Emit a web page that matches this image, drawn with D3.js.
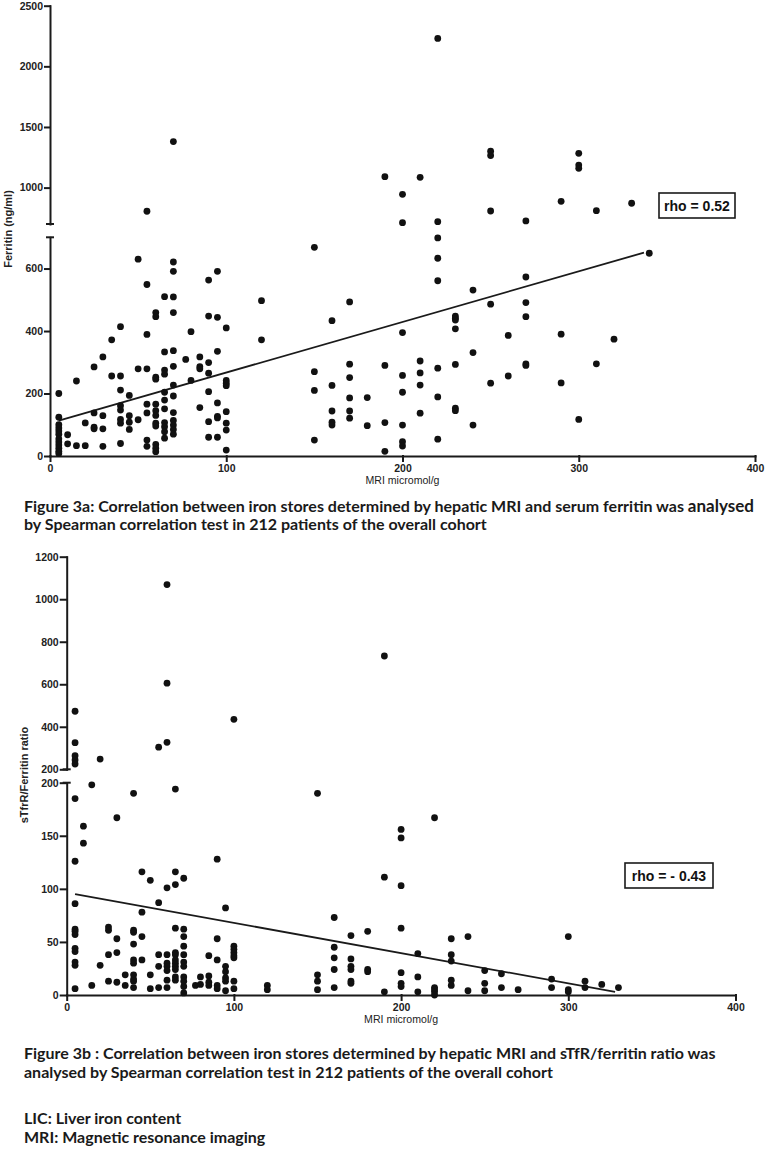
<!DOCTYPE html>
<html><head><meta charset="utf-8">
<script src="https://cdn.jsdelivr.net/npm/d3@7"></script>
<style>
html,body{margin:0;padding:0;background:#fff;}
svg{display:block;}
.tick text{font-family:"Liberation Sans",Arial,sans-serif;font-weight:bold;font-size:10.5px;fill:#222;}
.cap{font-family:Lato,"Open Sans",sans-serif;font-weight:700;font-size:16px;fill:#1a1a1a;}
</style></head><body><svg id="c" width="766" height="1150"></svg>
<script>
const xTicks=[0,100,200,300,400];
const ferritinTicksLow=[0,200,400,600];
const ferritinTicksHigh=[1000,1500,2000,2500];
const ratioTicksLow=[0,50,100,150,200];
const ratioTicksHigh=[200,400,600,800,1000,1200];
const ferritinBreak=700, ferritinMax=2500;
const ratioBreak=200, ratioMax=1200;
const xMax=400;

// Figure 3a: [MRI micromol/g, ferritin ng/ml]
const pointsA=[
[5,200],[5,124],[5,100],[5,90],[5,80],[5,70],[5,55],[5,45],[5,35],[5,25],[5,15],[5,8],
[10,68],[10,39],[15,240],[15,33],[20,106],[20,33],
[25,285],[25,138],[25,92],[25,87],
[30,317],[30,129],[30,87],[30,31],
[35,372],[35,256],
[40,414],[40,256],[40,211],[40,161],[40,147],[40,117],[40,105],[40,40],
[45,194],[45,129],[45,108],[45,85],
[50,630],[50,279],[50,116],
[55,805],[55,549],[55,389],[55,279],[55,166],[55,138],[55,51],[55,31],
[60,459],[60,446],[60,252],[60,246],[60,166],[60,145],[60,130],[60,105],[60,96],[60,37],[60,25],[60,14],
[65,510],[65,333],[65,275],[65,262],[65,204],[65,179],[65,151],[65,107],[65,94],[65,78],[65,57],
[70,1380],[70,621],[70,591],[70,509],[70,459],[70,337],[70,287],[70,227],[70,192],[70,139],[70,114],[70,99],[70,85],[70,70],
[77,309],[80,398],[80,242],
[85,317],[85,286],[85,279],[85,155],
[90,563],[90,448],[90,299],[90,265],[90,206],[90,110],[90,60],
[95,591],[95,444],[95,335],[95,170],[95,127],[95,122],[95,60],
[100,410],[100,242],[100,233],[100,225],[100,142],[100,105],[100,83],[100,19],
[120,497],[120,372],
[150,668],[150,270],[150,210],[150,51],
[160,433],[160,226],[160,144],[160,108],[160,99],
[170,493],[170,294],[170,251],[170,186],[170,144],[170,121],
[180,187],[180,97],
[190,1090],[190,290],[190,107],[190,15],
[200,945],[200,711],[200,395],[200,258],[200,204],[200,99],[200,46],[200,32],
[210,1085],[210,304],[210,266],[210,227],[210,137],
[220,2230],[220,719],[220,698],[220,633],[220,561],[220,281],[220,189],[220,54],
[230,448],[230,441],[230,435],[230,407],[230,293],[230,153],[230,145],
[240,531],[240,331],[240,99],
[250,1300],[250,1265],[250,807],[250,486],[250,233],
[260,386],[260,256],
[270,725],[270,573],[270,491],[270,446],[270,295],[270,290],
[290,887],[290,390],[290,234],
[300,1283],[300,1186],[300,1159],[300,117],
[310,810],[310,295],[320,374],[330,871],[340,649]
];
// Figure 3b: [MRI micromol/g, sTfR/ferritin ratio]
const pointsB=[
[5,473],[5,325],[5,264],[5,244],[5,225],[5,185],[5,126],[5,86],[5,62],[5,60],[5,57],[5,44],[5,41],[5,31],[5,28],[5,6],
[10,159],[10,143],[15,198],[15,9],[20,248],[20,28],
[25,64],[25,61],[25,38],[25,13],
[30,167],[30,53],[30,40],[30,12],
[35,19],[35,9],
[40,190],[40,61],[40,59],[40,48],[40,33],[40,30],[40,19],[40,15],[40,13],[40,7],
[45,116],[45,78],[45,55],[45,33],
[50,108],[50,19],[50,6],
[55,304],[55,87],[55,38],[55,27],[55,7],
[60,1069],[60,605],[60,327],[60,101],[60,38],[60,30],[60,27],[60,23],[60,14],[60,7],
[65,194],[65,116],[65,104],[65,63],[65,40],[65,38],[65,33],[65,30],[65,27],[65,24],[65,17],[65,14],
[70,110],[70,62],[70,55],[70,46],[70,38],[70,31],[70,27],[70,17],[70,13],[70,8],[70,2],
[77,9],[80,17],[80,10],
[85,37],[85,18],[85,12],[85,9],
[90,128],[90,53],[90,33],[90,9],[90,6],
[95,82],[95,27],[95,22],[95,16],[95,13],[95,4],
[100,435],[100,46],[100,43],[100,40],[100,37],[100,35],[100,13],[100,6],
[120,9],[120,5],
[150,190],[150,19],[150,13],[150,5],
[160,73],[160,45],[160,35],[160,24],[160,7],
[170,56],[170,34],[170,27],[170,24],[170,13],[170,11],
[180,60],[180,24],[180,22],
[190,733],[190,111],[190,3],
[200,156],[200,148],[200,103],[200,63],[200,21],[200,11],[200,8],
[210,39],[210,17],[210,3],
[220,167],[220,7],[220,5],[220,3],[220,0],
[230,53],[230,38],[230,32],[230,14],[230,9],
[240,55],[240,4],
[250,23],[250,11],[250,4],
[260,20],[260,7],[270,5],
[290,15],[290,7],
[300,55],[300,5],[300,3],
[310,13],[310,7],[320,10],[330,7]
];
const fitA=[[5,113],[337,651]];
const fitB=[[5,95],[328,3]];
const rhoA="rho = 0.52", rhoB="rho = - 0.43";
const yLabelA="Ferritin (ng/ml)", yLabelB="sTfrR/Ferritin ratio", xLabel="MRI micromol/g";
const captionA=["Figure 3a: Correlation between iron stores determined by hepatic MRI and serum ferritin was ","analysed","by Spearman correlation test in 212 patients of the overall cohort"];
const captionB=["Figure 3b : Correlation between iron stores determined by hepatic MRI and sTfR/ferritin ratio was","analysed by Spearman correlation test in 212 patients of the overall cohort"];
const notes=["LIC: Liver iron content","MRI: Magnetic resonance imaging"];

const svg=d3.select("#c");
const ink="#1a1a1a";

function panel(o){
  const g=svg.append("g");
  const x=d3.scaleLinear([0,xMax],o.xr);
  const yl=d3.scaleLinear([0,o.brk],o.ylr);
  const yu=d3.scaleLinear([o.brk,o.max],o.yur);
  const y=v=>v>o.brk?yu(v):yl(v);
  const x0=o.xr[0];
  g.append("g").attr("transform",`translate(${x0},0)`)
    .call(d3.axisLeft(yl).tickValues(o.tl).tickSize(o.ts).tickSizeOuter(0).tickPadding(o.tp).tickFormat(d3.format("d")));
  g.append("g").attr("transform",`translate(${x0},0)`)
    .call(d3.axisLeft(yu).tickValues(o.tu).tickSize(o.ts).tickSizeOuter(0).tickPadding(o.tp).tickFormat(d3.format("d")));
  g.append("g").attr("transform",`translate(0,${o.ylr[0]})`)
    .call(d3.axisBottom(x).tickValues(xTicks).tickSize(5).tickSizeOuter(0).tickPadding(4));
  g.selectAll(".domain,.tick line").attr("stroke",ink).attr("stroke-width",2).attr("stroke-linecap","square");
  g.selectAll(".tick text").attr("fill","#222");
  [yl(o.brk),yu(o.brk)].forEach(cy=>{
    g.append("line").attr("x1",x0-4).attr("x2",x0+4).attr("y1",cy).attr("y2",cy)
      .attr("stroke",ink).attr("stroke-width",2);
  });
  g.append("path").attr("d",d3.line().x(d=>x(d[0])).y(d=>y(d[1]))(o.fit))
    .attr("stroke",ink).attr("stroke-width",1.8).attr("fill","none");
  g.append("g").selectAll("circle").data(o.pts).join("circle")
    .attr("cx",d=>x(d[0])).attr("cy",d=>y(d[1])).attr("r",3.4).attr("fill","#111");
  g.append("text").attr("transform",`translate(${o.ylab[0]},${o.ylab[1]}) rotate(-90)`)
    .attr("text-anchor","middle").attr("dy","0.35em")
    .style("font-family","'Liberation Sans',Arial,sans-serif").style("font-weight","bold").style("font-size","11px")
    .attr("fill","#222").text(o.ylabel);
  g.append("text").attr("x",(o.xr[0]+o.xr[1])/2).attr("y",o.ylr[0]+28)
    .attr("text-anchor","middle").attr("textLength",74).attr("lengthAdjust","spacingAndGlyphs")
    .style("font-family","'Liberation Sans',Arial,sans-serif").style("font-size","11px")
    .attr("fill","#222").text(xLabel);
  const b=o.box;
  g.append("rect").attr("x",b[0]).attr("y",b[1]).attr("width",b[2]).attr("height",b[3])
    .attr("fill","#fff").attr("stroke",ink).attr("stroke-width",1.6);
  g.append("text").attr("x",b[0]+b[2]/2).attr("y",b[1]+b[3]/2).attr("dy","0.36em")
    .attr("text-anchor","middle")
    .style("font-family","'Liberation Sans',Arial,sans-serif").style("font-weight","bold").style("font-size","14px")
    .attr("fill","#111").text(o.rho);
}

panel({xr:[50,755],ylr:[456,237.3],yur:[224,5.7],brk:ferritinBreak,max:ferritinMax,
  tl:ferritinTicksLow,tu:ferritinTicksHigh,ts:5,tp:2,pts:pointsA,fit:fitA,
  ylabel:yLabelA,ylab:[8,229],rho:rhoA,box:[659,193,76,25]});
panel({xr:[66.7,735.5],ylr:[995,782.7],yur:[769.3,556.7],brk:ratioBreak,max:ratioMax,
  tl:ratioTicksLow,tu:ratioTicksHigh,ts:6,tp:2,pts:pointsB,fit:fitB,
  ylabel:yLabelB,ylab:[24,775],rho:rhoB,box:[625,863,88,25]});

const ca=svg.append("text").attr("class","cap").attr("x",24).attr("y",511.5);
ca.append("tspan").text(captionA[0]);
ca.append("tspan").style("font-size","17px").text(captionA[1]);
svg.append("text").attr("class","cap").attr("x",24).attr("y",530).text(captionA[2]);
svg.append("text").attr("class","cap").attr("x",24).attr("y",1059).text(captionB[0]);
svg.append("text").attr("class","cap").attr("x",24).attr("y",1077.5).text(captionB[1]);
svg.append("text").attr("class","cap").attr("x",24).attr("y",1124).text(notes[0]);
svg.append("text").attr("class","cap").attr("x",24).attr("y",1142.5).text(notes[1]);
</script></body></html>
